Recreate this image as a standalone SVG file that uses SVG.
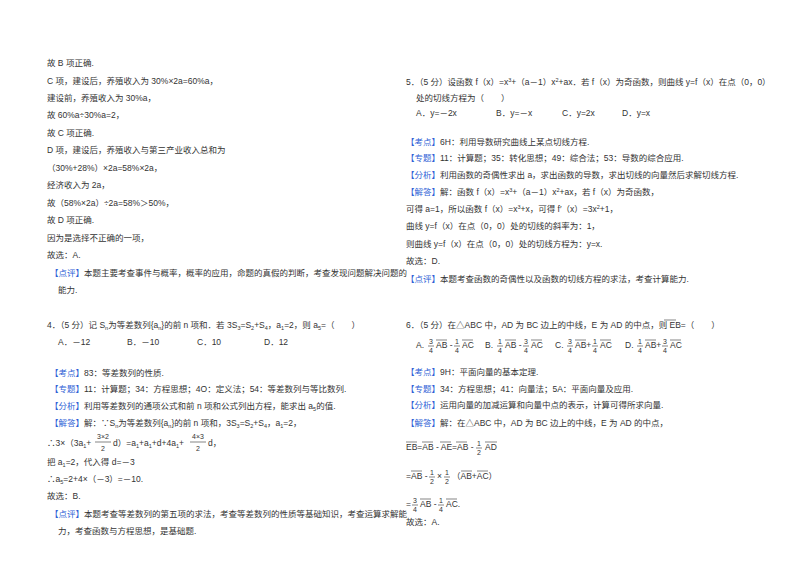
<svg xmlns="http://www.w3.org/2000/svg" width="800" height="565" viewBox="0 0 800 565">
<style>
text{font-family:"Liberation Sans","Noto Sans CJK SC",sans-serif;font-size:8.5px;fill:#333}
.b{fill:#2f5fd6}
.s{font-size:5.5px}
.f{font-size:7px;text-anchor:middle}
.ln{stroke:#333;stroke-width:0.6}
</style>
<rect width="800" height="565" fill="#fff"/>
<g id="left">
<text x="47" y="66">故 B 项正确.</text>
<text x="47" y="84">C 项，建设后，养殖收入为 30%×2a=60%a，</text>
<text x="47" y="101">建设前，养殖收入为 30%a，</text>
<text x="47" y="118">故 60%a÷30%a=2，</text>
<text x="47" y="136">故 C 项正确.</text>
<text x="47" y="153">D 项，建设后，养殖收入与第三产业收入总和为</text>
<text x="47" y="171">（30%+28%）×2a=58%×2a，</text>
<text x="47" y="188">经济收入为 2a，</text>
<text x="47" y="206">故（58%×2a）÷2a=58%＞50%，</text>
<text x="47" y="223">故 D 项正确.</text>
<text x="47" y="241">因为是选择不正确的一项，</text>
<text x="47" y="258">故选：A.</text>
<text x="50" y="276"><tspan class="b">【点评】</tspan>本题主要考查事件与概率，概率的应用，命题的真假的判断，考查发现问题解决问题的</text>
<text x="58" y="293">能力.</text>
<text x="47" y="328">4．（5 分）记 S<tspan class="s" dy="2">n</tspan><tspan dy="-2">为等差数列{a</tspan><tspan class="s" dy="2">n</tspan><tspan dy="-2">}的前 n 项和．若 3S</tspan><tspan class="s" dy="2">3</tspan><tspan dy="-2">=S</tspan><tspan class="s" dy="2">2</tspan><tspan dy="-2">+S</tspan><tspan class="s" dy="2">4</tspan><tspan dy="-2">，a</tspan><tspan class="s" dy="2">1</tspan><tspan dy="-2">=2，则 a</tspan><tspan class="s" dy="2">5</tspan><tspan dy="-2">=（　　）</tspan></text>
<text x="58" y="345">A．－12</text><text x="127" y="345">B．－10</text><text x="197" y="345">C．10</text><text x="264" y="345">D．12</text>
<text x="50" y="376"><tspan class="b">【考点】</tspan>83：等差数列的性质.</text>
<text x="50" y="392"><tspan class="b">【专题】</tspan>11：计算题；34：方程思想；4O：定义法；54：等差数列与等比数列.</text>
<text x="50" y="409"><tspan class="b">【分析】</tspan>利用等差数列的通项公式和前 n 项和公式列出方程，能求出 a<tspan class="s" dy="2">5</tspan><tspan dy="-2">的值.</tspan></text>
<text x="50" y="426"><tspan class="b">【解答】</tspan>解：∵S<tspan class="s" dy="2">n</tspan><tspan dy="-2">为等差数列{a</tspan><tspan class="s" dy="2">n</tspan><tspan dy="-2">}的前 n 项和，3S</tspan><tspan class="s" dy="2">3</tspan><tspan dy="-2">=S</tspan><tspan class="s" dy="2">2</tspan><tspan dy="-2">+S</tspan><tspan class="s" dy="2">4</tspan><tspan dy="-2">，a</tspan><tspan class="s" dy="2">1</tspan><tspan dy="-2">=2，</tspan></text>
<text x="47" y="446">∴3×（3a<tspan class="s" dy="2">1</tspan><tspan dy="-2">+</tspan></text>
<text x="103" y="439" class="f">3×2</text><line class="ln" x1="95" y1="442" x2="111" y2="442"/><text x="103" y="451" class="f">2</text>
<text x="113" y="446">d）=a<tspan class="s" dy="2">1</tspan><tspan dy="-2">+a</tspan><tspan class="s" dy="2">1</tspan><tspan dy="-2">+d+4a</tspan><tspan class="s" dy="2">1</tspan><tspan dy="-2">+</tspan></text>
<text x="198" y="439" class="f">4×3</text><line class="ln" x1="190" y1="442" x2="206" y2="442"/><text x="198" y="451" class="f">2</text>
<text x="208" y="446">d，</text>
<text x="47" y="465">把 a<tspan class="s" dy="2">1</tspan><tspan dy="-2">=2，代入得 d=－3</tspan></text>
<text x="47" y="482">∴a<tspan class="s" dy="2">5</tspan><tspan dy="-2">=2+4×（－3）=－10.</tspan></text>
<text x="47" y="499">故选：B.</text>
<text x="50" y="517"><tspan class="b">【点评】</tspan>本题考查等差数列的第五项的求法，考查等差数列的性质等基础知识，考查运算求解能</text>
<text x="58" y="534">力，考查函数与方程思想，是基础题.</text>
</g>
<g id="right">
<text x="406" y="85">5．（5 分）设函数 f（x）=x<tspan class="s" dy="-3">3</tspan><tspan dy="3">+（a－1）x</tspan><tspan class="s" dy="-3">2</tspan><tspan dy="3">+ax．若 f（x）为奇函数，则曲线 y=f（x）在点（0，0）</tspan></text>
<text x="416" y="101">处的切线方程为（　　）</text>
<text x="416" y="116">A．y=－2x</text><text x="496" y="116">B．y=－x</text><text x="562" y="116">C．y=2x</text><text x="622" y="116">D．y=x</text>
<text x="406" y="145"><tspan class="b">【考点】</tspan>6H：利用导数研究曲线上某点切线方程.</text>
<text x="406" y="161"><tspan class="b">【专题】</tspan>11：计算题；35：转化思想；49：综合法；53：导数的综合应用.</text>
<text x="406" y="178"><tspan class="b">【分析】</tspan>利用函数的奇偶性求出 a，求出函数的导数，求出切线的向量然后求解切线方程.</text>
<text x="406" y="195"><tspan class="b">【解答】</tspan>解：函数 f（x）=x<tspan class="s" dy="-3">3</tspan><tspan dy="3">+（a－1）x</tspan><tspan class="s" dy="-3">2</tspan><tspan dy="3">+ax，若 f（x）为奇函数，</tspan></text>
<text x="406" y="212">可得 a=1，所以函数 f（x）=x<tspan class="s" dy="-3">3</tspan><tspan dy="3">+x，可得 f′（x）=3x</tspan><tspan class="s" dy="-3">2</tspan><tspan dy="3">+1，</tspan></text>
<text x="406" y="229">曲线 y=f（x）在点（0，0）处的切线的斜率为：1，</text>
<text x="406" y="247">则曲线 y=f（x）在点（0，0）处的切线方程为：y=x.</text>
<text x="406" y="264">故选：D.</text>
<text x="406" y="282"><tspan class="b">【点评】</tspan>本题考查函数的奇偶性以及函数的切线方程的求法，考查计算能力.</text>
<text x="406" y="328">6．（5 分）在△ABC 中，AD 为 BC 边上的中线，E 为 AD 的中点，则 EB=（　　）</text>
<line class="ln" x1="664" y1="320" x2="676" y2="320"/>
<g id="opts">
<text x="416" y="348">A.</text>
<text x="431" y="344" class="f">3</text><line class="ln" x1="428" y1="346" x2="434" y2="346"/><text x="431" y="353" class="f">4</text>
<text x="436" y="348">AB - </text><line class="ln" x1="436" y1="340" x2="447" y2="340"/>
<text x="457" y="344" class="f">1</text><line class="ln" x1="454" y1="346" x2="460" y2="346"/><text x="457" y="353" class="f">4</text>
<text x="462" y="348">AC</text><line class="ln" x1="462" y1="340" x2="473" y2="340"/>
<text x="485" y="348">B.</text>
<text x="500" y="344" class="f">1</text><line class="ln" x1="497" y1="346" x2="503" y2="346"/><text x="500" y="353" class="f">4</text>
<text x="505" y="348">AB - </text><line class="ln" x1="505" y1="340" x2="516" y2="340"/>
<text x="526" y="344" class="f">3</text><line class="ln" x1="523" y1="346" x2="529" y2="346"/><text x="526" y="353" class="f">4</text>
<text x="531" y="348">AC</text><line class="ln" x1="531" y1="340" x2="542" y2="340"/>
<text x="555" y="348">C.</text>
<text x="570" y="344" class="f">3</text><line class="ln" x1="567" y1="346" x2="573" y2="346"/><text x="570" y="353" class="f">4</text>
<text x="575" y="348">AB+</text><line class="ln" x1="575" y1="340" x2="586" y2="340"/>
<text x="595" y="344" class="f">1</text><line class="ln" x1="592" y1="346" x2="598" y2="346"/><text x="595" y="353" class="f">4</text>
<text x="600" y="348">AC</text><line class="ln" x1="600" y1="340" x2="611" y2="340"/>
<text x="625" y="348">D.</text>
<text x="640" y="344" class="f">1</text><line class="ln" x1="637" y1="346" x2="643" y2="346"/><text x="640" y="353" class="f">4</text>
<text x="645" y="348">AB+</text><line class="ln" x1="645" y1="340" x2="656" y2="340"/>
<text x="665" y="344" class="f">3</text><line class="ln" x1="662" y1="346" x2="668" y2="346"/><text x="665" y="353" class="f">4</text>
<text x="670" y="348">AC</text><line class="ln" x1="670" y1="340" x2="681" y2="340"/>
</g>
<text x="406" y="375"><tspan class="b">【考点】</tspan>9H：平面向量的基本定理.</text>
<text x="406" y="392"><tspan class="b">【专题】</tspan>34：方程思想；41：向量法；5A：平面向量及应用.</text>
<text x="406" y="408"><tspan class="b">【分析】</tspan>运用向量的加减运算和向量中点的表示，计算可得所求向量.</text>
<text x="406" y="426"><tspan class="b">【解答】</tspan>解：在△ABC 中，AD 为 BC 边上的中线，E 为 AD 的中点，</text>
<g id="sol">
<text x="406" y="450">EB=AB - AE=AB - </text>
<line class="ln" x1="406" y1="442" x2="417" y2="442"/><line class="ln" x1="422" y1="442" x2="433" y2="442"/><line class="ln" x1="440" y1="442" x2="451" y2="442"/><line class="ln" x1="456" y1="442" x2="467" y2="442"/>
<text x="479" y="446" class="f">1</text><line class="ln" x1="476" y1="448" x2="482" y2="448"/><text x="479" y="455" class="f">2</text>
<text x="485" y="450">AD</text><line class="ln" x1="485" y1="442" x2="497" y2="442"/>
<text x="406" y="479">=AB - </text><line class="ln" x1="411" y1="471" x2="422" y2="471"/>
<text x="432" y="475" class="f">1</text><line class="ln" x1="429" y1="477" x2="435" y2="477"/><text x="432" y="484" class="f">2</text>
<text x="437" y="479">×</text>
<text x="447" y="475" class="f">1</text><line class="ln" x1="444" y1="477" x2="450" y2="477"/><text x="447" y="484" class="f">2</text>
<text x="452" y="479">（AB+AC）</text><line class="ln" x1="461" y1="471" x2="472" y2="471"/><line class="ln" x1="477" y1="471" x2="488" y2="471"/>
<text x="406" y="507">=</text>
<text x="415" y="503" class="f">3</text><line class="ln" x1="412" y1="505" x2="418" y2="505"/><text x="415" y="512" class="f">4</text>
<text x="420" y="507">AB - </text><line class="ln" x1="420" y1="499" x2="431" y2="499"/>
<text x="441" y="503" class="f">1</text><line class="ln" x1="438" y1="505" x2="444" y2="505"/><text x="441" y="512" class="f">4</text>
<text x="446" y="507">AC.</text><line class="ln" x1="446" y1="499" x2="457" y2="499"/>
</g>
<text x="406" y="525">故选：A.</text>
</g>
</svg>
